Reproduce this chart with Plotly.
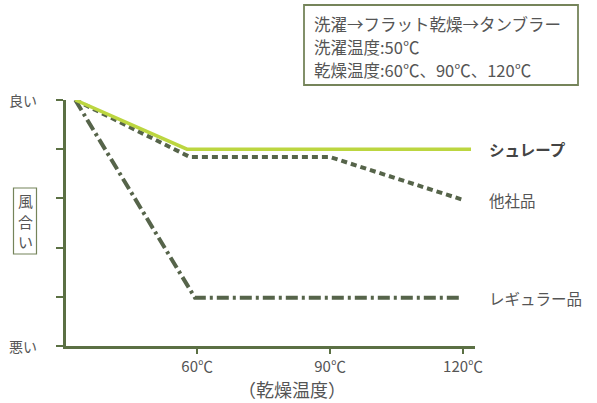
import plotly.graph_objects as go

# data (y: 0 = 悪い, 5 = 良い)
shurepu_x = [32.5, 57.7, 90, 121.8]
shurepu_y = [5.0, 4.0, 4.0, 4.0]
tasha_x = [32.5, 58.4, 90, 120]
tasha_y = [5.0, 3.84, 3.84, 2.97]
regular_x = [32.5, 59.5, 90, 119.3]
regular_y = [5.0, 0.98, 0.98, 0.98]
series_names = ["シュレープ", "他社品", "レギュラー品"]
x_tickvals = [60, 90, 120]
x_ticktext = ["60℃", "90℃", "120℃"]
info_lines = ["洗濯→フラット乾燥→タンブラー", "洗濯温度:50℃", "乾燥温度:60℃、90℃、120℃"]
y_title_chars = ["風", "合", "い"]

FONT = "Noto Sans CJK JP"
AXIS = "#5b7044"
TXT = "#555555"
DARK = "#56644a"
GREEN = "#bcd640"
BOX = "#75845a"

L, T, W, H = 66, 100, 409, 246  # plot area in pixels


def px(xp):
    return (xp - L) / W


def py(yp):
    return (T + H - yp) / H


fig = go.Figure()
fig.add_trace(go.Scatter(x=regular_x, y=regular_y, mode="lines", name=series_names[2],
                         line=dict(color=DARK, width=4, dash="12px,4px,3px,4px"), cliponaxis=False))
fig.add_trace(go.Scatter(x=tasha_x, y=tasha_y, mode="lines", name=series_names[1],
                         line=dict(color=DARK, width=4, dash="6px,4px"), cliponaxis=False))
fig.add_trace(go.Scatter(x=shurepu_x, y=shurepu_y, mode="lines", name=series_names[0],
                         line=dict(color=GREEN, width=3.5), cliponaxis=False))

# end labels
labels = [(shurepu_y[-1], series_names[0], True), (tasha_y[-1], series_names[1], False),
          (regular_y[-1], series_names[2], False)]
for yv, t, bold in labels:
    fig.add_annotation(x=1.03, xref="paper", y=yv, yref="y", text=("<b>%s</b>" % t) if bold else t,
                       showarrow=False, xanchor="left", yanchor="middle",
                       font=dict(family=FONT, size=15.5, color="#444444" if bold else TXT))

# y-end labels
fig.add_annotation(x=-0.065, xref="paper", y=5, yref="y", text="良い", showarrow=False,
                   xanchor="right", yanchor="middle", font=dict(family=FONT, size=14, color=TXT))
fig.add_annotation(x=-0.065, xref="paper", y=0, yref="y", text="悪い", showarrow=False,
                   xanchor="right", yanchor="middle", font=dict(family=FONT, size=14, color=TXT))

# vertical y title with frame
fig.add_shape(type="rect", xref="paper", yref="paper", x0=px(13.5), x1=px(36.5), y0=py(254), y1=py(188),
              line=dict(color=BOX, width=1.2), fillcolor="white", layer="above")
for ch, yp in zip(y_title_chars, [200, 221, 242]):
    fig.add_annotation(x=px(25), xref="paper", y=py(yp), yref="paper", text=ch, showarrow=False,
                       xanchor="center", yanchor="middle", borderpad=0,
                       font=dict(family=FONT, size=15, color=TXT))

# info box
fig.add_shape(type="rect", xref="paper", yref="paper", x0=px(304), x1=px(578), y0=py(85), y1=py(5),
              line=dict(color=BOX, width=1.8), fillcolor="white", layer="above")
for line, yp in zip(info_lines, [24, 47, 70]):
    fig.add_annotation(x=px(313), xref="paper", y=py(yp), yref="paper", text=line, showarrow=False,
                       xanchor="left", yanchor="middle", borderpad=0,
                       font=dict(family=FONT, size=16.5, color=TXT))

# x title
fig.add_annotation(x=0.553, xref="paper", y=-0.175, yref="paper", text="（乾燥温度）", showarrow=False,
                   xanchor="center", yanchor="middle", font=dict(family=FONT, size=18, color=TXT))

fig.update_xaxes(range=[30.4, 122.7], tickvals=x_tickvals, ticktext=x_ticktext,
                 showline=True, linecolor=AXIS, linewidth=3, ticks="outside", tickcolor=AXIS,
                 ticklen=5, tickwidth=2, showgrid=False, zeroline=False,
                 tickfont=dict(family=FONT, size=15, color=TXT))
fig.update_yaxes(range=[0, 5], tickvals=[0, 1, 2, 3, 4, 5], showticklabels=False,
                 showline=True, linecolor=AXIS, linewidth=3, ticks="outside", tickcolor=AXIS,
                 ticklen=7, tickwidth=2, showgrid=False, zeroline=False)

fig.update_layout(width=597, height=403, margin=dict(l=L, r=597 - L - W, t=T, b=403 - T - H),
                  plot_bgcolor="white", paper_bgcolor="white", showlegend=False)
fig.write_html("out.html", config={"displayModeBar": False},
               post_script="document.body.style.margin='0';document.body.style.overflow='hidden';")
